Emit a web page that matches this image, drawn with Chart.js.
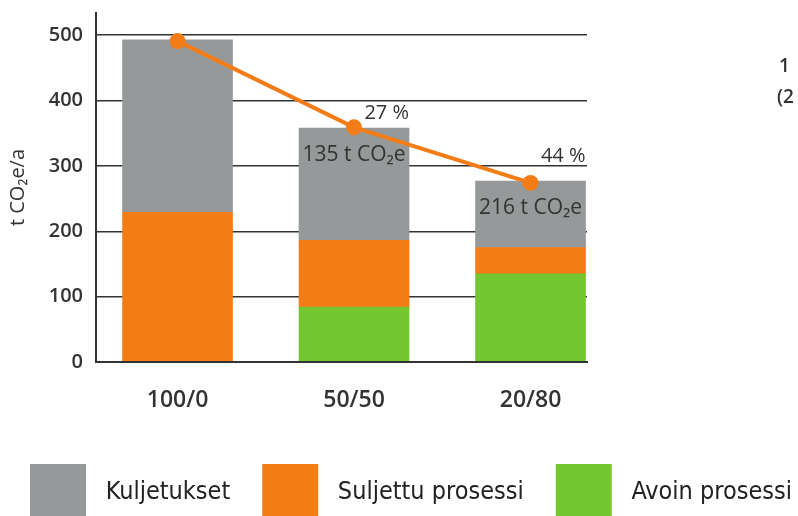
<!DOCTYPE html>
<html>
<head>
<meta charset="utf-8">
<script src="https://cdn.jsdelivr.net/npm/chart.js@4.4.1/dist/chart.umd.min.js"></script>
<style>
  html, body { margin: 0; padding: 0; background: #fff; overflow: hidden; }
  #wrap { position: relative; width: 798px; height: 516px; overflow: hidden; }
  .side { position: absolute; font: 600 19px 'Open Sans', sans-serif; color: #333; }
</style>
</head>
<body>
<div id="wrap">
  <canvas id="chart" width="798" height="530"></canvas>
  <div class="side" style="left:779px; top:52px;">1</div>
  <div class="side" style="left:777px; top:83px;">(2</div>
</div>
<script>
// Values
const categories = ['100/0', '50/50', '20/80']
const transport = [264, 172, 102]      // Kuljetukset
const closedProcess = [229, 102, 40]   // Suljettu prosessi
const openProcess = [0, 84, 135]       // Avoin prosessi
const totals = [491, 359, 274]         // orange line
const savedLabels = ['', '135 t CO₂e', '216 t CO₂e']
const percentLabels = ['', '27 %', '44 %']
const yTicks = [0, 100, 200, 300, 400, 500]

const GREY = '#969999'
const ORANGE = '#f47c16'
const GREEN = '#74c62e'
const INK = '#333'

Chart.defaults.font.family = "'Open Sans', sans-serif"
Chart.defaults.color = INK

const points = values => values.map((v, i) => ({ x: i, y: v }))

// Text on top of the stacked bars
const barNotes = {
  id: 'barNotes',
  afterDatasetsDraw (chart, args, opts) {
    const ctx = chart.ctx
    const bars = chart.getDatasetMeta(2).data
    ctx.save()
    ctx.fillStyle = INK
    ctx.textBaseline = 'middle'
    bars.forEach((bar, i) => {
      const right = bar.x + bar.width / 2
      ctx.font = "400 21px 'Open Sans', sans-serif"
      ctx.textAlign = 'center'
      ctx.fillText(savedLabels[i], bar.x, bar.y + 27)
      ctx.font = "400 20px 'Open Sans', sans-serif"
      ctx.textAlign = 'right'
      ctx.fillText(percentLabels[i], right, bar.y + opts.percentOffsets[i])
    })
    ctx.restore()
  }
}

new Chart(document.getElementById('chart'), {
  type: 'bar',
  data: {
    datasets: [
      { label: 'Avoin prosessi', data: points(openProcess), backgroundColor: GREEN, order: 1 },
      { label: 'Suljettu prosessi', data: points(closedProcess), backgroundColor: ORANGE, order: 1 },
      { label: 'Kuljetukset', data: points(transport), backgroundColor: GREY, order: 1 },
      {
        type: 'line',
        label: 'Yhteensä',
        data: points(totals),
        stack: 'total',
        borderColor: ORANGE,
        backgroundColor: ORANGE,
        borderWidth: 4,
        pointRadius: 8,
        pointBorderWidth: 0,
        order: 0
      }
    ]
  },
  options: {
    responsive: false,
    devicePixelRatio: 1,
    animation: false,
    barThickness: 110,
    // negative side padding only widens the legend row so it fits on one line
    layout: { padding: { top: 13, left: -20, right: -44, bottom: 0 } },
    scales: {
      x: {
        type: 'linear',
        stacked: true,
        offset: false,
        min: -0.462,
        max: 2.32,
        afterBuildTicks: axis => { axis.ticks = categories.map((c, i) => ({ value: i })) },
        afterFit: axis => { axis.height = 70 },
        grid: { display: false, drawTicks: false },
        border: { color: INK, width: 2, z: 1 },
        ticks: {
          padding: 25,
          font: { size: 23, weight: 600 },
          callback: value => categories[value]
        }
      },
      y: {
        stacked: true,
        min: 0,
        max: 534,
        afterBuildTicks: axis => { axis.ticks = yTicks.map(v => ({ value: v })) },
        afterFit: axis => {
          axis.width = 116
          axis.paddingTop = 0
          axis.paddingBottom = 0
        },
        grid: { color: INK, lineWidth: 1.5, drawTicks: false },
        border: { color: INK, width: 2, z: 1 },
        ticks: { padding: 13, font: { size: 20, weight: 600 } },
        title: {
          display: true,
          text: 't CO₂e/a',
          font: { size: 20 },
          padding: { top: 26, bottom: 0 }
        }
      },
      spare: {
        position: 'right',
        afterFit: axis => { axis.width = 255 },
        grid: { display: false },
        border: { display: false },
        ticks: { display: false }
      }
    },
    plugins: {
      tooltip: { enabled: false },
      barNotes: { percentOffsets: [0, -15, -25] },
      legend: {
        position: 'bottom',
        labels: {
          boxWidth: 56,
          boxHeight: 56,
          padding: 32,
          color: '#222',
          font: { family: "'DejaVu Sans Condensed', 'DejaVu Sans', sans-serif", size: 25 },
          filter: item => item.datasetIndex < 3,
          sort: (a, b) => b.datasetIndex - a.datasetIndex,
          // a leading space widens the gap between swatch and text
          generateLabels: chart => Chart.defaults.plugins.legend.labels.generateLabels(chart)
            .map(item => ({ ...item, text: ' ' + item.text }))
        }
      }
    }
  },
  plugins: [barNotes]
})
</script>
</body>
</html>
